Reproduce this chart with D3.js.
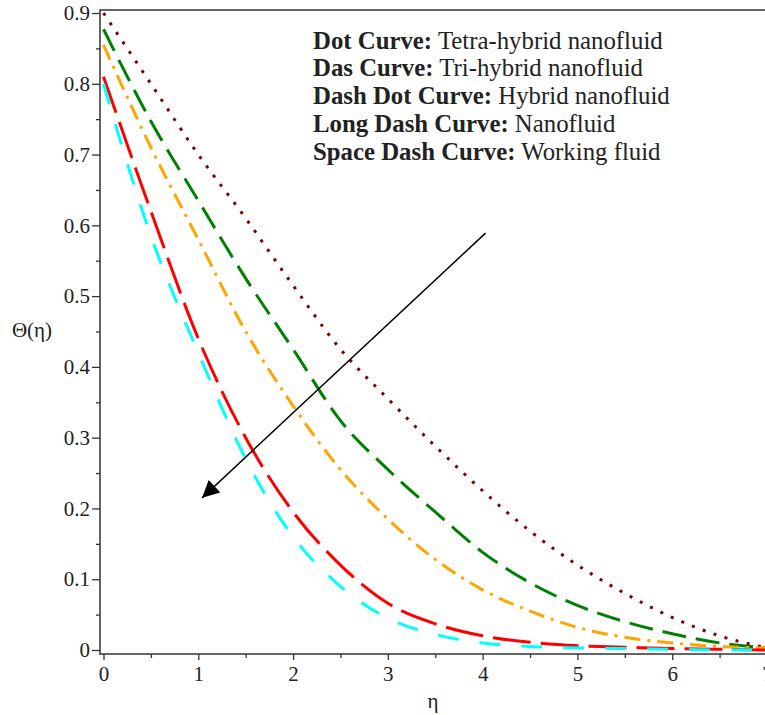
<!DOCTYPE html>
<html>
<head>
<meta charset="utf-8">
<script src="https://cdn.jsdelivr.net/npm/d3@7"></script>
<style>
  body { margin: 0; background: #fff; }
  svg { display: block; }
  text { font-family: "Liberation Serif", "Times New Roman", serif; fill: #222; }
</style>
</head>
<body>
<svg id="chart" width="765" height="715"></svg>
<script>
// eta sample points (shared by every curve)
const eta = [0, 0.5, 1, 1.5, 2, 2.5, 3, 3.5, 4, 4.5, 5, 5.5, 6, 6.5, 7];

// Theta(eta) values
const tetraHybrid = [0.900, 0.800, 0.700, 0.610, 0.515, 0.425, 0.355, 0.288, 0.225, 0.168, 0.120, 0.080, 0.046, 0.020, 0.003];
const triHybrid   = [0.877, 0.747, 0.635, 0.525, 0.425, 0.324, 0.255, 0.195, 0.138, 0.095, 0.063, 0.040, 0.023, 0.010, 0.003];
const hybrid      = [0.855, 0.710, 0.580, 0.450, 0.345, 0.255, 0.185, 0.128, 0.085, 0.055, 0.032, 0.018, 0.010, 0.005, 0.003];
const nano        = [0.810, 0.620, 0.440, 0.300, 0.195, 0.120, 0.066, 0.037, 0.020, 0.011, 0.006, 0.004, 0.002, 0.001, 0.000];
const working     = [0.800, 0.585, 0.420, 0.270, 0.160, 0.090, 0.045, 0.022, 0.010, 0.005, 0.003, 0.002, 0.001, 0.000, 0.000];

const yTicks = [0, 0.1, 0.2, 0.3, 0.4, 0.5, 0.6, 0.7, 0.8, 0.9];
const xTicks = [0, 1, 2, 3, 4, 5, 6, 7];

const legendBold = ["Dot Curve:", "Das Curve:", "Dash Dot Curve:", "Long Dash Curve:", "Space Dash Curve:"];
const legendText = ["Tetra-hybrid nanofluid", "Tri-hybrid nanofluid", "Hybrid nanofluid", "Nanofluid", "Working fluid"];

// arrow from (eta, theta) to (eta, theta)
const arrowFrom = [4.03, 0.589];
const arrowTo = [1.04, 0.215];

const series = [
  { values: tetraHybrid, color: "#800000", dash: "3,8.5" },
  { values: triHybrid,   color: "#008000", dash: "24,10" },
  { values: hybrid,      color: "#FFA500", dash: "16,7,3,7" },
  { values: nano,        color: "#FF0000", dash: "38,10" },
  { values: working,     color: "#00FFFF", dash: "21,21" }
];

const svg = d3.select("#chart");

const x = d3.scaleLinear().domain([0, 7]).range([103.5, 767]);
const y = d3.scaleLinear().domain([0, 0.9]).range([650, 13]);

const boxLeft = 100, boxTop = 10, boxBottom = 654, boxRight = 770;

// frame
svg.append("rect")
  .attr("x", boxLeft).attr("y", boxTop)
  .attr("width", boxRight - boxLeft).attr("height", boxBottom - boxTop)
  .attr("fill", "none")
  .attr("stroke", "#333")
  .attr("stroke-width", 1.5);

// curves
const line = d3.line()
  .x((d, i) => x(eta[i]))
  .y(d => y(d))
  .curve(d3.curveMonotoneX);

series.forEach(s => {
  svg.append("path")
    .datum(s.values)
    .attr("d", line)
    .attr("fill", "none")
    .attr("stroke", s.color)
    .attr("stroke-width", 3)
    .attr("stroke-dasharray", s.dash);
});

// y axis
const yMinor = d3.range(0.05, 0.9, 0.1);
svg.append("g")
  .attr("transform", `translate(${boxLeft},0)`)
  .call(d3.axisLeft(y).tickValues(yMinor).tickSize(4).tickFormat(""))
  .call(g => g.select(".domain").remove())
  .call(g => g.selectAll("line").attr("stroke", "#333").attr("stroke-width", 1.3));

const yAxis = svg.append("g")
  .attr("transform", `translate(${boxLeft},0)`)
  .call(d3.axisLeft(y).tickValues(yTicks).tickSize(8).tickPadding(2)
    .tickFormat(d => d === 0 ? "0" : d3.format(".1f")(d)));
yAxis.select(".domain").remove();
yAxis.selectAll("line").attr("stroke", "#333").attr("stroke-width", 1.3);
yAxis.selectAll("text")
  .style("font-family", '"Liberation Serif", serif')
  .style("font-size", "21px")
  .attr("fill", "#222");

// x axis
const xMinor = d3.range(0.5, 7, 1);
svg.append("g")
  .attr("transform", `translate(0,${boxBottom})`)
  .call(d3.axisBottom(x).tickValues(xMinor).tickSize(4).tickFormat(""))
  .call(g => g.select(".domain").remove())
  .call(g => g.selectAll("line").attr("stroke", "#333").attr("stroke-width", 1.3));

const xAxis = svg.append("g")
  .attr("transform", `translate(0,${boxBottom})`)
  .call(d3.axisBottom(x).tickValues(xTicks).tickSize(6).tickPadding(6).tickFormat(d3.format("d")));
xAxis.select(".domain").remove();
xAxis.selectAll("line").attr("stroke", "#333").attr("stroke-width", 1.3);
xAxis.selectAll("text")
  .style("font-family", '"Liberation Serif", serif')
  .style("font-size", "21px")
  .attr("fill", "#222");

// axis titles
svg.append("text")
  .attr("x", 32).attr("y", 337)
  .attr("text-anchor", "middle")
  .style("font-size", "21px")
  .text("Θ(η)");

svg.append("text")
  .attr("x", 433).attr("y", 708)
  .attr("text-anchor", "middle")
  .style("font-size", "21px")
  .text("η");

// arrow
svg.append("defs").append("marker")
  .attr("id", "head")
  .attr("viewBox", "0 0 10 10")
  .attr("refX", 10).attr("refY", 5)
  .attr("markerWidth", 20).attr("markerHeight", 17)
  .attr("markerUnits", "userSpaceOnUse")
  .attr("orient", "auto")
  .append("path")
  .attr("d", "M0,0 L10,5 L0,10 Z")
  .attr("fill", "#000");

svg.append("line")
  .attr("x1", x(arrowFrom[0])).attr("y1", y(arrowFrom[1]))
  .attr("x2", x(arrowTo[0])).attr("y2", y(arrowTo[1]))
  .attr("stroke", "#000")
  .attr("stroke-width", 1.5)
  .attr("marker-end", "url(#head)");

// legend text
const legend = svg.append("g");
legendBold.forEach((b, i) => {
  const t = legend.append("text")
    .attr("x", 313)
    .attr("y", 48.5 + i * 27.9)
    .style("font-size", "24.8px");
  t.append("tspan").attr("font-weight", "bold").text(b);
  t.append("tspan").text(" " + legendText[i]);
});
</script>
</body>
</html>
